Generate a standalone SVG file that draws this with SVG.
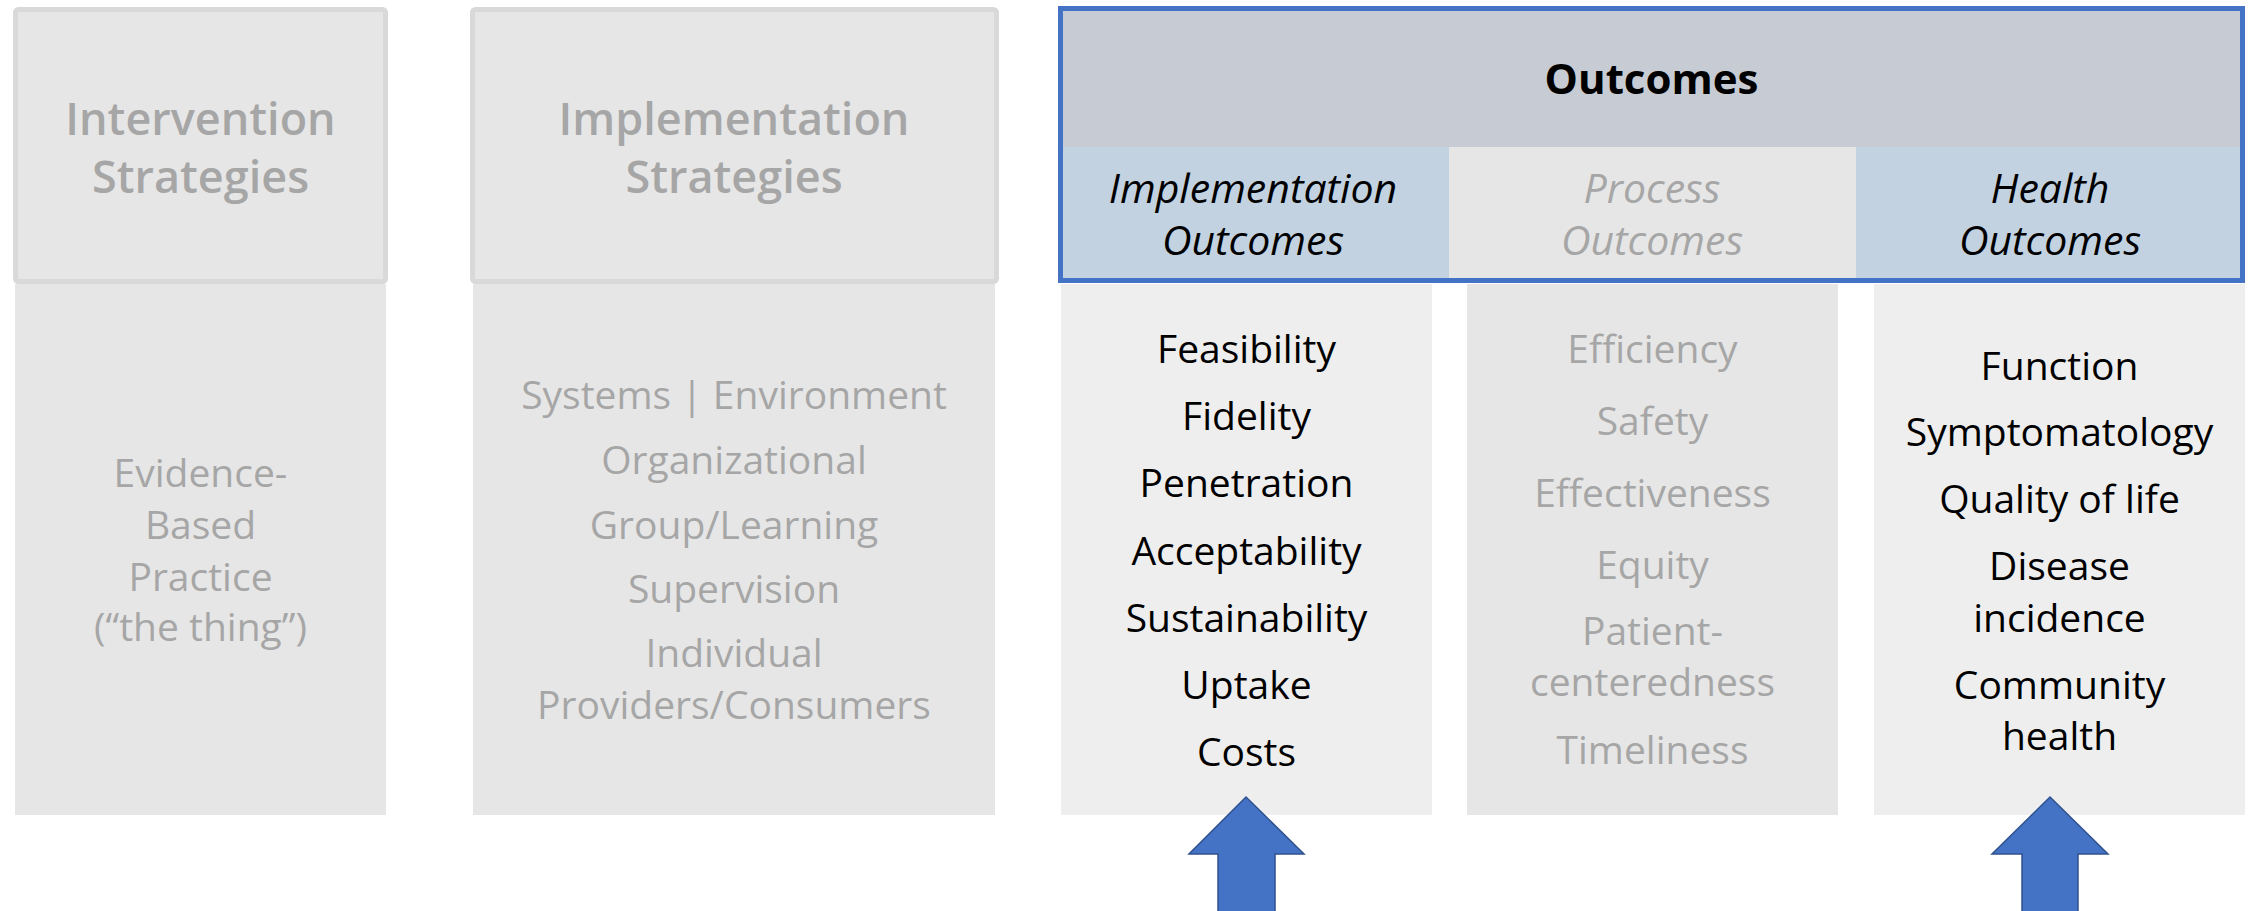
<svg xmlns="http://www.w3.org/2000/svg" width="2250" height="911" viewBox="0 0 2250 911">
<style>
text{font-family:"Open Sans","Noto Sans","Liberation Sans",sans-serif;text-anchor:middle}
.hd{font-size:45px;font-weight:600;fill:#A6A6A6}
.gt{font-size:39px;fill:#A6A6A6}
.bt{font-size:39px;fill:#000}
.ot{font-size:42px;font-weight:700;fill:#000}
.sub{font-size:41px;font-style:italic}
.boxTop{fill:#E6E6E6;stroke:#D9D9D9;stroke-width:5}
.arrow{fill:#4472C4;stroke:#2F528F;stroke-width:1.5}
</style>
<rect width="2250" height="911" fill="#FFFFFF"/>
<g id="intervention">
<rect x="15" y="284" width="371" height="531" fill="#E6E6E6"/>
<rect class="boxTop" x="15.5" y="9.5" width="370" height="272" rx="3"/>
<text class="hd"><tspan x="200.5" y="135">Intervention</tspan><tspan x="200.5" y="193">Strategies</tspan></text>
<text class="gt"><tspan x="200.5" y="487">Evidence-</tspan><tspan x="200.5" y="539">Based</tspan><tspan x="200.5" y="591">Practice</tspan><tspan x="200.5" y="641">(“the thing”)</tspan></text>
</g>
<g id="implementation-strategies">
<rect x="473" y="284" width="522" height="531" fill="#E6E6E6"/>
<rect class="boxTop" x="472.5" y="9.5" width="524" height="272" rx="3"/>
<text class="hd"><tspan x="734" y="135">Implementation</tspan><tspan x="734" y="193">Strategies</tspan></text>
<text class="gt" x="734" y="409">Systems | Environment</text>
<text class="gt" x="734" y="474">Organizational</text>
<text class="gt" x="734" y="539">Group/Learning</text>
<text class="gt" x="734" y="603">Supervision</text>
<text class="gt"><tspan x="734" y="667">Individual</tspan><tspan x="734" y="719">Providers/Consumers</tspan></text>
</g>
<g id="outcomes">
<rect x="1061" y="11" width="1182" height="136" fill="#C7CBD3"/>
<rect x="1061" y="147" width="388" height="133" fill="#C2D2E1"/>
<rect x="1449" y="147" width="407" height="133" fill="#E6E6E6"/>
<rect x="1856" y="147" width="387" height="133" fill="#C2D2E1"/>
<rect x="1060.5" y="8.5" width="1182" height="272" fill="none" stroke="#4472C4" stroke-width="5"/>
<text class="ot" x="1651.5" y="94">Outcomes</text>
<text class="sub" fill="#000"><tspan x="1253" y="203">Implementation</tspan><tspan x="1253" y="255">Outcomes</tspan></text>
<text class="sub" fill="#A6A6A6"><tspan x="1652" y="203">Process</tspan><tspan x="1652" y="255">Outcomes</tspan></text>
<text class="sub" fill="#000"><tspan x="2050" y="203">Health</tspan><tspan x="2050" y="255">Outcomes</tspan></text>
</g>
<g id="implementation-outcomes">
<rect x="1061" y="284" width="371" height="531" fill="#EEEEEE"/>
<text class="bt" x="1246.5" y="363">Feasibility</text>
<text class="bt" x="1246.5" y="430">Fidelity</text>
<text class="bt" x="1246.5" y="497">Penetration</text>
<text class="bt" x="1246.5" y="565">Acceptability</text>
<text class="bt" x="1246.5" y="632">Sustainability</text>
<text class="bt" x="1246.5" y="699">Uptake</text>
<text class="bt" x="1246.5" y="766">Costs</text>
</g>
<g id="process-outcomes">
<rect x="1467" y="284" width="371" height="531" fill="#E6E6E6"/>
<text class="gt" x="1652.5" y="363">Efficiency</text>
<text class="gt" x="1652.5" y="435">Safety</text>
<text class="gt" x="1652.5" y="507">Effectiveness</text>
<text class="gt" x="1652.5" y="579">Equity</text>
<text class="gt"><tspan x="1652.5" y="645">Patient-</tspan><tspan x="1652.5" y="696">centeredness</tspan></text>
<text class="gt" x="1652.5" y="764">Timeliness</text>
</g>
<g id="health-outcomes">
<rect x="1874" y="284" width="371" height="531" fill="#EEEEEE"/>
<text class="bt" x="2059.5" y="380">Function</text>
<text class="bt" x="2059.5" y="446">Symptomatology</text>
<text class="bt" x="2059.5" y="513">Quality of life</text>
<text class="bt"><tspan x="2059.5" y="580">Disease</tspan><tspan x="2059.5" y="632">incidence</tspan></text>
<text class="bt"><tspan x="2059.5" y="699">Community</tspan><tspan x="2059.5" y="750">health</tspan></text>
</g>
<g id="connectors">
<polygon class="arrow" points="1246,797 1304,854 1275,854 1275,912 1218,912 1218,854 1189,854"/>
<polygon class="arrow" points="2050,797 2108,854 2078,854 2078,912 2022,912 2022,854 1992,854"/>
</g>
</svg>
